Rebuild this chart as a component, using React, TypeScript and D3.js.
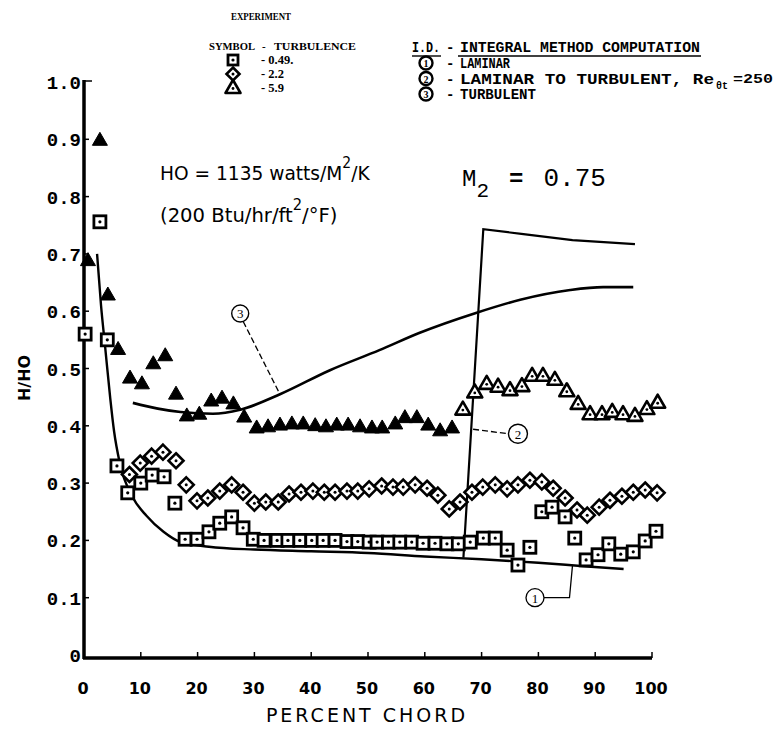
import React from "react";
import * as d3 from "d3";

// ---------- data ----------
const xTickValues = [0, 10, 20, 30, 40, 50, 60, 70, 80, 90, 100];
const xTickLabels = ["0", "10", "20", "30", "40", "50", "60", "70", "80", "90", "100"];
const yTickValues = [0, 0.1, 0.2, 0.3, 0.4, 0.5, 0.6, 0.7, 0.8, 0.9, 1.0];
const yTickLabels = ["0", "0.1", "0.2", "0.3", "0.4", "0.5", "0.6", "0.7", "0.8", "0.9", "1.0"];

// Experiment, turbulence 0.49 % (squares): [percent chord, H/HO]
const squares049: [number, number][] = [
  [0.2, 0.56], [2.8, 0.756], [4.1, 0.55], [5.8, 0.33], [7.7, 0.283], [10, 0.30], [12, 0.314],
  [14.1, 0.311], [16, 0.265], [17.8, 0.202], [19.9, 0.202], [22, 0.215], [23.9, 0.23], [26, 0.241],
  [28, 0.222], [29.8, 0.202], [31.7, 0.2], [34, 0.2], [35.9, 0.2], [38, 0.2], [40.1, 0.2],
  [42.1, 0.2], [44.2, 0.2], [46.3, 0.198], [48.2, 0.198], [50.2, 0.197], [51.6, 0.197],
  [53.6, 0.197], [55.6, 0.197], [57.7, 0.197], [59.7, 0.195], [61.8, 0.195], [63.9, 0.194],
  [65.9, 0.194], [68, 0.197], [70.3, 0.204], [72.4, 0.204], [74.5, 0.183], [76.4, 0.157],
  [78.5, 0.188], [80.6, 0.25], [82.4, 0.258], [84.7, 0.241], [86.4, 0.204], [88.4, 0.166],
  [90.5, 0.175], [92.4, 0.194], [94.5, 0.176], [96.7, 0.18], [98.8, 0.199], [100.7, 0.216],
];

// Experiment, turbulence 2.2 % (diamonds)
const diamonds22: [number, number][] = [
  [8, 0.315], [9.9, 0.335], [11.9, 0.347], [13.9, 0.354], [16.2, 0.339], [18, 0.297], [19.9, 0.269],
  [21.8, 0.274], [23.9, 0.286], [26, 0.297], [28, 0.284], [30, 0.265], [32, 0.267], [34.2, 0.267],
  [36.1, 0.281], [38.2, 0.284], [40.3, 0.286], [42.3, 0.284], [44.2, 0.284], [46.3, 0.286],
  [48.2, 0.286], [50.2, 0.29], [52.4, 0.295], [54.4, 0.293], [56.2, 0.293], [58.3, 0.297],
  [60.4, 0.291], [62.3, 0.279], [64.3, 0.255], [66.2, 0.267], [68.3, 0.284], [70.2, 0.293],
  [72.4, 0.297], [74.5, 0.29], [76.4, 0.297], [78.5, 0.305], [80.6, 0.302], [82.6, 0.291],
  [84.7, 0.274], [86.8, 0.253], [88.6, 0.244], [90.7, 0.258], [92.6, 0.27], [94.7, 0.277],
  [96.7, 0.284], [98.8, 0.288], [100.9, 0.283],
];

// Experiment, turbulence 5.9 % (triangles)
const triangles59: [number, number][] = [
  [0.7, 0.69], [2.8, 0.9], [4.2, 0.63], [6.0, 0.535], [8.1, 0.485], [10.2, 0.475], [12.2, 0.51],
  [14.3, 0.524], [16.2, 0.457], [18.1, 0.419], [20.3, 0.422], [22.4, 0.445], [24.3, 0.45],
  [26.3, 0.44], [28.2, 0.417], [30.4, 0.398], [32.4, 0.4], [34.5, 0.403], [36.6, 0.405],
  [38.6, 0.405], [40.7, 0.402], [42.6, 0.4], [44.5, 0.403], [46.5, 0.403], [48.6, 0.4],
  [50.7, 0.398], [52.5, 0.398], [54.8, 0.405], [56.5, 0.416], [58.6, 0.416], [60.6, 0.403],
  [62.7, 0.393], [64.8, 0.398], [66.7, 0.43], [68.8, 0.46], [70.9, 0.475], [72.9, 0.47],
  [75, 0.464], [77.1, 0.471], [78.9, 0.489], [80.8, 0.489], [82.9, 0.482], [85, 0.462],
  [87, 0.44], [89.1, 0.422], [91.2, 0.422], [93, 0.426], [94.9, 0.422], [97, 0.419],
  [99.1, 0.431], [101, 0.442],
];

// Integral method computations
const laminarCurve: [number, number][] = [
  [2.3, 0.7], [3.0, 0.61], [3.7, 0.54], [4.6, 0.45], [5.3, 0.39], [6.3, 0.335], [8.6, 0.275],
  [11, 0.243], [14, 0.215], [17, 0.197], [22, 0.189], [30, 0.184], [40, 0.181], [50, 0.178],
  [60, 0.172], [70, 0.167], [80, 0.161], [88, 0.155], [95, 0.15],
];
const transitionCurve: [number, number][] = [
  [66.8, 0.17], [70.3, 0.743], [77, 0.735], [86, 0.724], [97, 0.717],
];
const turbulentCurve: [number, number][] = [
  [8.6, 0.44], [13, 0.43], [17, 0.424], [22.7, 0.421], [27.5, 0.428], [34.5, 0.455],
  [43.3, 0.497], [52, 0.532], [59, 0.562], [69, 0.597], [76.8, 0.62], [85.6, 0.637],
  [91.4, 0.642], [96.7, 0.642],
];

// curve labels: [label, label pct, label value, anchor pct, anchor value]
const curveLabels: [string, number, number, number, number][] = [
  ["3", 27.5, 0.596, 34.5, 0.455],
  ["2", 76.4, 0.386, 68.5, 0.394],
  ["1", 79.4, 0.1, 86.0, 0.156],
];

const legendTurbulence = ["0.49.", "2.2", "5.9"];
const legendComputation = ["LAMINAR", "LAMINAR TO TURBULENT, Re", "TURBULENT"];

// ---------- scales ----------
const x = d3.scaleLinear().domain([0, 100]).range([84, 652]);
const y = d3.scaleLinear().domain([0, 1]).range([655, 82]);

const mono = "'Liberation Mono', 'DejaVu Sans Mono', monospace";
const sans = "'DejaVu Sans', 'Liberation Sans', sans-serif";
const serif = "'Liberation Serif', 'DejaVu Serif', serif";

function Square({ cx, cy, s = 6 }: { cx: number; cy: number; s?: number }) {
  return (
    <g>
      <rect x={cx - s} y={cy - s} width={2 * s} height={2 * s} fill="#fff" stroke="#000" strokeWidth={2.8} />
      <circle cx={cx} cy={cy} r={1.6} fill="#000" />
    </g>
  );
}
function Diamond({ cx, cy, s = 7.5 }: { cx: number; cy: number; s?: number }) {
  return (
    <g>
      <polygon
        points={`${cx},${cy - s} ${cx + s},${cy} ${cx},${cy + s} ${cx - s},${cy}`}
        fill="#fff"
        stroke="#000"
        strokeWidth={2.6}
        strokeLinejoin="miter"
      />
      <circle cx={cx} cy={cy} r={1.5} fill="#000" />
    </g>
  );
}
function Triangle({ cx, cy, filled }: { cx: number; cy: number; filled: boolean }) {
  const pts = `${cx},${cy - 7} ${cx + 7.5},${cy + 6} ${cx - 7.5},${cy + 6}`;
  return filled ? (
    <polygon points={pts} fill="#000" stroke="#000" strokeWidth={1} strokeLinejoin="round" />
  ) : (
    <g>
      <polygon points={pts} fill="#fff" stroke="#000" strokeWidth={2.6} strokeLinejoin="round" />
      <circle cx={cx} cy={cy + 1.5} r={1.4} fill="#000" />
    </g>
  );
}

export default function App() {
  const smooth = d3
    .line<[number, number]>()
    .x((d) => x(d[0]))
    .y((d) => y(d[1]))
    .curve(d3.curveMonotoneX);
  const straight = d3
    .line<[number, number]>()
    .x((d) => x(d[0]))
    .y((d) => y(d[1]));

  const x0 = x(0);
  const axisY = y(0) + 3;

  return (
    <svg width={782} height={732} viewBox="0 0 782 732" style={{ display: "block", margin: "-8px", background: "#fff" }}>
      <rect x={0} y={0} width={782} height={732} fill="#fff" />

      {/* ---- top-left legend ---- */}
      <g fontFamily={serif} fontWeight="bold" fill="#000">
        <text x={231} y={20} fontSize={11} textLength={60} lengthAdjust="spacingAndGlyphs">EXPERIMENT</text>
        <text x={209} y={50} fontSize={11} textLength={46} lengthAdjust="spacingAndGlyphs">SYMBOL</text>
        <text x={262} y={50} fontSize={11}>-</text>
        <text x={274} y={50} fontSize={11} textLength={82} lengthAdjust="spacingAndGlyphs">TURBULENCE</text>
        {legendTurbulence.map((t, i) => (
          <text key={t} x={261} y={64 + i * 14} fontSize={12.5}>
            {"-  " + t}
          </text>
        ))}
      </g>
      <Square cx={233} cy={60} s={5} />
      <Diamond cx={233} cy={74} s={6.5} />
      <Triangle cx={233} cy={87} filled={false} />

      {/* ---- top-right legend ---- */}
      <g fontFamily={mono} fontWeight="bold" fill="#000" fontSize={14}>
        <text x={412} y={52} textLength={28} lengthAdjust="spacingAndGlyphs">I.D.</text>
        <line x1={412} x2={441} y1={56} y2={56} stroke="#000" strokeWidth={1.4} />
        <text x={446} y={52}>-</text>
        <text x={460} y={52} textLength={240} lengthAdjust="spacingAndGlyphs">INTEGRAL METHOD COMPUTATION</text>
        <line x1={458} x2={701} y1={56} y2={56} stroke="#000" strokeWidth={1.4} />
        {legendComputation.map((t, i) => (
          <g key={t}>
            <circle cx={426} cy={63 + i * 15.5} r={6.5} fill="#fff" stroke="#000" strokeWidth={2.4} />
            <text x={426} y={67 + i * 15.5} fontSize={10} textAnchor="middle" fontFamily={serif}>
              {String(i + 1)}
            </text>
            <text x={446} y={68 + i * 15.5}>-</text>
            <text
              x={460}
              y={68 + i * 15.5}
              textLength={i === 0 ? 50 : i === 1 ? 254 : 76}
              lengthAdjust="spacingAndGlyphs"
            >
              {t}
            </text>
          </g>
        ))}
        <text x={716} y={89} fontSize={10}>θt</text>
        <text x={733} y={83} fontSize={13} textLength={40} lengthAdjust="spacingAndGlyphs">=250</text>
      </g>

      {/* ---- text annotations ---- */}
      <text transform="translate(160,180) scale(0.93,1)" fontFamily={sans} fontSize={20}>
        HO = 1135 watts/M
        <tspan dy={-12} fontSize={15}>2</tspan>
        <tspan dy={12}>/K</tspan>
      </text>
      <text transform="translate(160,222) scale(0.98,1)" fontFamily={sans} fontSize={20}>
        (200 Btu/hr/ft
        <tspan dy={-12} fontSize={15}>2</tspan>
        <tspan dy={12}>/°F)</tspan>
      </text>

      <text x={462} y={186} fontFamily={mono} fontSize={24}>
        M
        <tspan dy={11} fontSize={21}>2</tspan>
        <tspan dy={-11} dx={20} fontWeight="bold">=</tspan>
        <tspan dx={20} fontSize={26}>0.75</tspan>
      </text>

      {/* ---- axes ---- */}
      <line x1={x0} x2={x0} y1={y(1) - 2} y2={axisY + 1} stroke="#000" strokeWidth={3.5} />
      <line x1={x0} x2={x0 + 8} y1={y(1) - 1} y2={y(1) - 1} stroke="#000" strokeWidth={1.5} />
      <line x1={x0 - 1} x2={x(100)} y1={axisY} y2={axisY} stroke="#000" strokeWidth={3.5} />
      {yTickValues.slice(1, -1).map((v) => (
        <line key={v} x1={x0} x2={x0 + 5} y1={y(v)} y2={y(v)} stroke="#000" strokeWidth={1.5} />
      ))}
      {xTickValues.slice(1).map((v) => (
        <line key={v} x1={x(v)} x2={x(v)} y1={axisY} y2={axisY - 6} stroke="#000" strokeWidth={1.5} />
      ))}
      <g fontFamily={mono} fontWeight="bold" fontSize={19} fill="#000">
        {yTickValues.map((v, i) => (
          <text key={v} x={x0 - 3} y={y(v) + 7} textAnchor="end">
            {yTickLabels[i]}
          </text>
        ))}
      </g>
      <g fontFamily={sans} fontWeight="bold" fontSize={16} fill="#000">
        {xTickValues.map((v, i) => (
          <text key={v} x={x(v) - 1} y={694} textAnchor="middle">
            {xTickLabels[i]}
          </text>
        ))}
      </g>
      <text x={367} y={722} fontFamily={sans} fontSize={19} textAnchor="middle" letterSpacing={3}>
        PERCENT CHORD
      </text>
      <text
        transform="translate(30,378) rotate(-90)"
        fontFamily={sans}
        fontWeight="bold"
        fontSize={16}
        textAnchor="middle"
        textLength={46}
        lengthAdjust="spacingAndGlyphs"
      >
        H/HO
      </text>

      {/* ---- computed curves ---- */}
      <path d={smooth(laminarCurve) || ""} fill="none" stroke="#000" strokeWidth={2.4} />
      <path d={smooth(turbulentCurve) || ""} fill="none" stroke="#000" strokeWidth={2.6} />
      <path d={straight(transitionCurve) || ""} fill="none" stroke="#000" strokeWidth={2.2} strokeLinejoin="miter" />

      {/* ---- curve labels ---- */}
      {curveLabels.map(([lab, lx, ly, ax, ay], i) => {
        const cx = x(lx);
        const cy = y(ly);
        if (i === 2) {
          const bx = x(ax) - 3;
          return (
            <g key={lab}>
              <polyline
                points={`${cx + 9},${cy} ${bx},${cy} ${x(ax)},${y(ay)}`}
                fill="none"
                stroke="#000"
                strokeWidth={1.3}
              />
              <circle cx={cx} cy={cy} r={9} fill="#fff" stroke="#000" strokeWidth={1.3} />
              <text x={cx} y={cy + 5} fontFamily={serif} fontSize={13} textAnchor="middle">{lab}</text>
            </g>
          );
        }
        return (
          <g key={lab}>
            <line
              x1={i === 0 ? cx + 3 : x(ax)}
              y1={i === 0 ? cy + 8 : y(ay)}
              x2={i === 0 ? x(ax) : cx - 9}
              y2={i === 0 ? y(ay) : cy}
              stroke="#000"
              strokeWidth={1.3}
              strokeDasharray="6 3"
            />
            <circle cx={cx} cy={cy} r={i === 0 ? 8.5 : 9.5} fill="#fff" stroke="#000" strokeWidth={1.4} />
            <text x={cx} y={cy + 5} fontFamily={serif} fontSize={13} textAnchor="middle">{lab}</text>
          </g>
        );
      })}

      {/* ---- experimental points ---- */}
      {diamonds22.map(([p, v], i) => (
        <Diamond key={"d" + i} cx={x(p)} cy={y(v)} />
      ))}
      {squares049.map(([p, v], i) => (
        <Square key={"s" + i} cx={x(p)} cy={y(v)} />
      ))}
      {triangles59.map(([p, v], i) => (
        <Triangle key={"t" + i} cx={x(p)} cy={y(v)} filled={p < 66} />
      ))}
    </svg>
  );
}
